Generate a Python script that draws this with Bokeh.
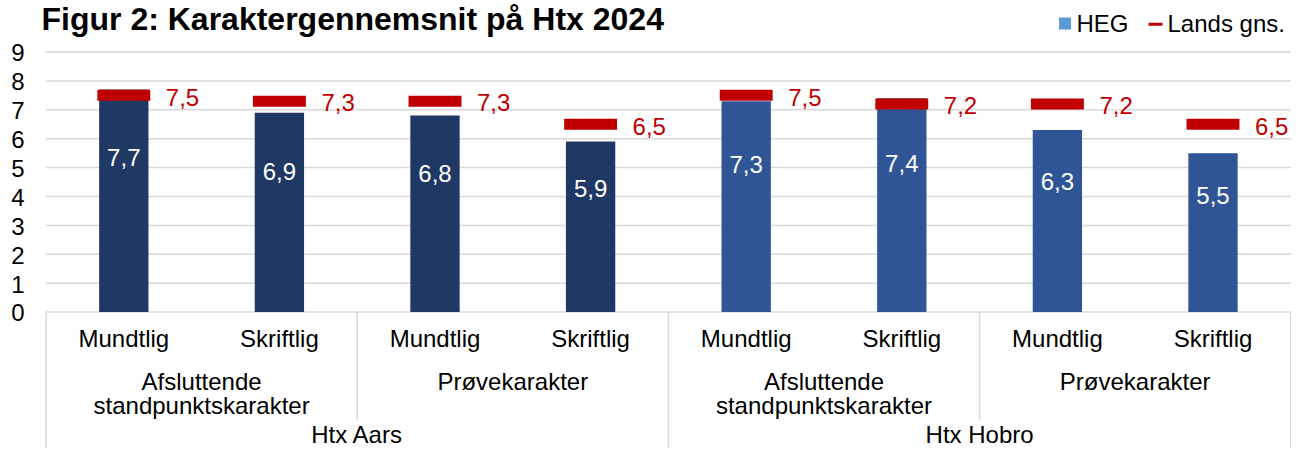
from bokeh.plotting import figure
from bokeh.models import Range1d
from bokeh.embed import file_html
from bokeh.resources import INLINE
from bokeh.core.properties import value

# ---------------- data ----------------
title_text = "Figur 2: Karaktergennemsnit på Htx 2024"
schools = ["Htx Aars", "Htx Hobro"]
grade_types = ["Afsluttende\nstandpunktskarakter", "Prøvekarakter"]
exam_forms = ["Mundtlig", "Skriftlig"]
heg = [7.7, 6.9, 6.8, 5.9, 7.3, 7.4, 6.3, 5.5]
lands_gns = [7.5, 7.3, 7.3, 6.5, 7.5, 7.2, 7.2, 6.5]
y_ticks = [0, 1, 2, 3, 4, 5, 6, 7, 8, 9]
legend_labels = ["HEG", "Lands gns."]

# ---------------- layout / style ----------------
FONT = value("Liberation Sans")
FS_PX = 24
FS = f"{FS_PX}px"
TITLE_PX = 32
GRID = "#D9D9D9"
BAR_COLORS = {"Htx Aars": "#203864", "Htx Hobro": "#2F5597"}
RED = "#C00000"

W, H = 1291, 448
CAT = 155.6                 # pixels per category
X0 = 45.5                   # pixel x of category axis start
PX_PER_UNIT = 28.9          # pixels per grade unit
Y0 = 311.6                  # pixel y of value 0


def px(x_pix):   # pixel (from figure left) -> data x
    return (x_pix - X0) / CAT


def py(y_pix):   # pixel (from figure top) -> data y
    return (Y0 - y_pix) / PX_PER_UNIT


def mid(baseline_pix, fs):  # anchor of a "middle" text whose baseline is wanted at baseline_pix
    return baseline_pix - 0.3465 * fs


def fmt(v):
    return f"{v:.1f}".replace(".", ",")


cats = [(s, g, f) for s in schools for g in grade_types for f in exam_forms]
n = len(cats)
xs = [i + 0.5 for i in range(n)]
bar_colors = [BAR_COLORS[c[0]] for c in cats]

p = figure(width=W, height=H, x_range=Range1d(px(0), px(W)), y_range=Range1d(py(H), py(0)),
           output_backend="svg", toolbar_location=None, x_axis_location=None, y_axis_location=None,
           min_border=0)
p.outline_line_color = None
p.background_fill_color = "white"
p.border_fill_color = "white"
p.grid.visible = False

txt = dict(text_font=FONT, text_font_size=FS, text_baseline="middle")

# horizontal gridlines + value axis labels
p.segment(x0=[0] * len(y_ticks), x1=[n] * len(y_ticks), y0=y_ticks, y1=y_ticks,
          line_color=GRID, line_width=1.5)
p.text(x=[px(24)] * len(y_ticks), y=y_ticks, text=[str(t) for t in y_ticks],
       text_align="right", y_offset=0.8, text_color="#000000", **txt)

# separators of the category axis
lvl2_x = [i for i in range(0, n + 1, 2) if i % 4 != 0]
lvl3_x = [i for i in range(0, n + 1, 4)]
p.segment(x0=lvl2_x, x1=lvl2_x, y0=[0] * len(lvl2_x), y1=[py(420)] * len(lvl2_x),
          line_color=GRID, line_width=1.5)
p.segment(x0=lvl3_x, x1=lvl3_x, y0=[0] * len(lvl3_x), y1=[py(H)] * len(lvl3_x),
          line_color=GRID, line_width=1.5)

# bars and national average markers
p.vbar(x=xs, top=heg, bottom=0, width=0.317, fill_color=bar_colors, line_color=None)
p.rect(x=xs, y=lands_gns, width=0.34, height=11, height_units="screen",
       fill_color=RED, line_color=None)

# value labels
p.text(x=xs, y=[0.59 * v + 0.79 for v in heg], text=[fmt(v) for v in heg],
       text_align="center", text_color="white", **txt)
p.text(x=xs, y=lands_gns, text=[fmt(v) for v in lands_gns],
       text_align="left", x_offset=42, y_offset=1.8, text_color=RED, **txt)

# category labels (three levels)
p.text(x=xs, y=[0] * n, text=[c[2] for c in cats], text_align="center",
       y_offset=mid(346.5, FS_PX) - Y0, text_color="#000000", **txt)
g_x, g_lines = [], []
for si, s in enumerate(schools):
    for gi, g in enumerate(grade_types):
        g_x.append(si * 4 + gi * 2 + 1.0)
        g_lines.append(g.split("\n"))
for li in range(2):
    sel = [(x, ls[li]) for x, ls in zip(g_x, g_lines) if len(ls) > li]
    p.text(x=[a for a, _ in sel], y=[0] * len(sel), text=[b for _, b in sel],
           text_align="center", y_offset=mid(389 + 24.5 * li, FS_PX) - Y0,
           text_color="#000000", **txt)
p.text(x=[si * 4 + 2.0 for si in range(len(schools))], y=[0] * len(schools), text=schools,
       text_align="center", y_offset=mid(442, FS_PX) - Y0, text_color="#000000", **txt)

# legend
p.rect(x=[px(1064.5)], y=[py(23)], width=12, height=12, width_units="screen",
       height_units="screen", fill_color="#5B9BD5", line_color=None)
p.segment(x0=[px(1148)], x1=[px(1162)], y0=[py(23.7)], y1=[py(23.7)],
          line_color=RED, line_width=3)
p.text(x=[px(1076), px(1167)], y=[py(mid(31.7, FS_PX))] * 2, text=legend_labels,
       text_align="left", text_color="#000000", **txt)

# title
p.text(x=[px(41)], y=[py(mid(29.5, TITLE_PX))], text=[title_text], text_align="left",
       text_baseline="middle", text_color="#000000", text_font=FONT,
       text_font_size=f"{TITLE_PX}px", text_font_style="bold")

open("out.html", "w").write(file_html(p, INLINE))
